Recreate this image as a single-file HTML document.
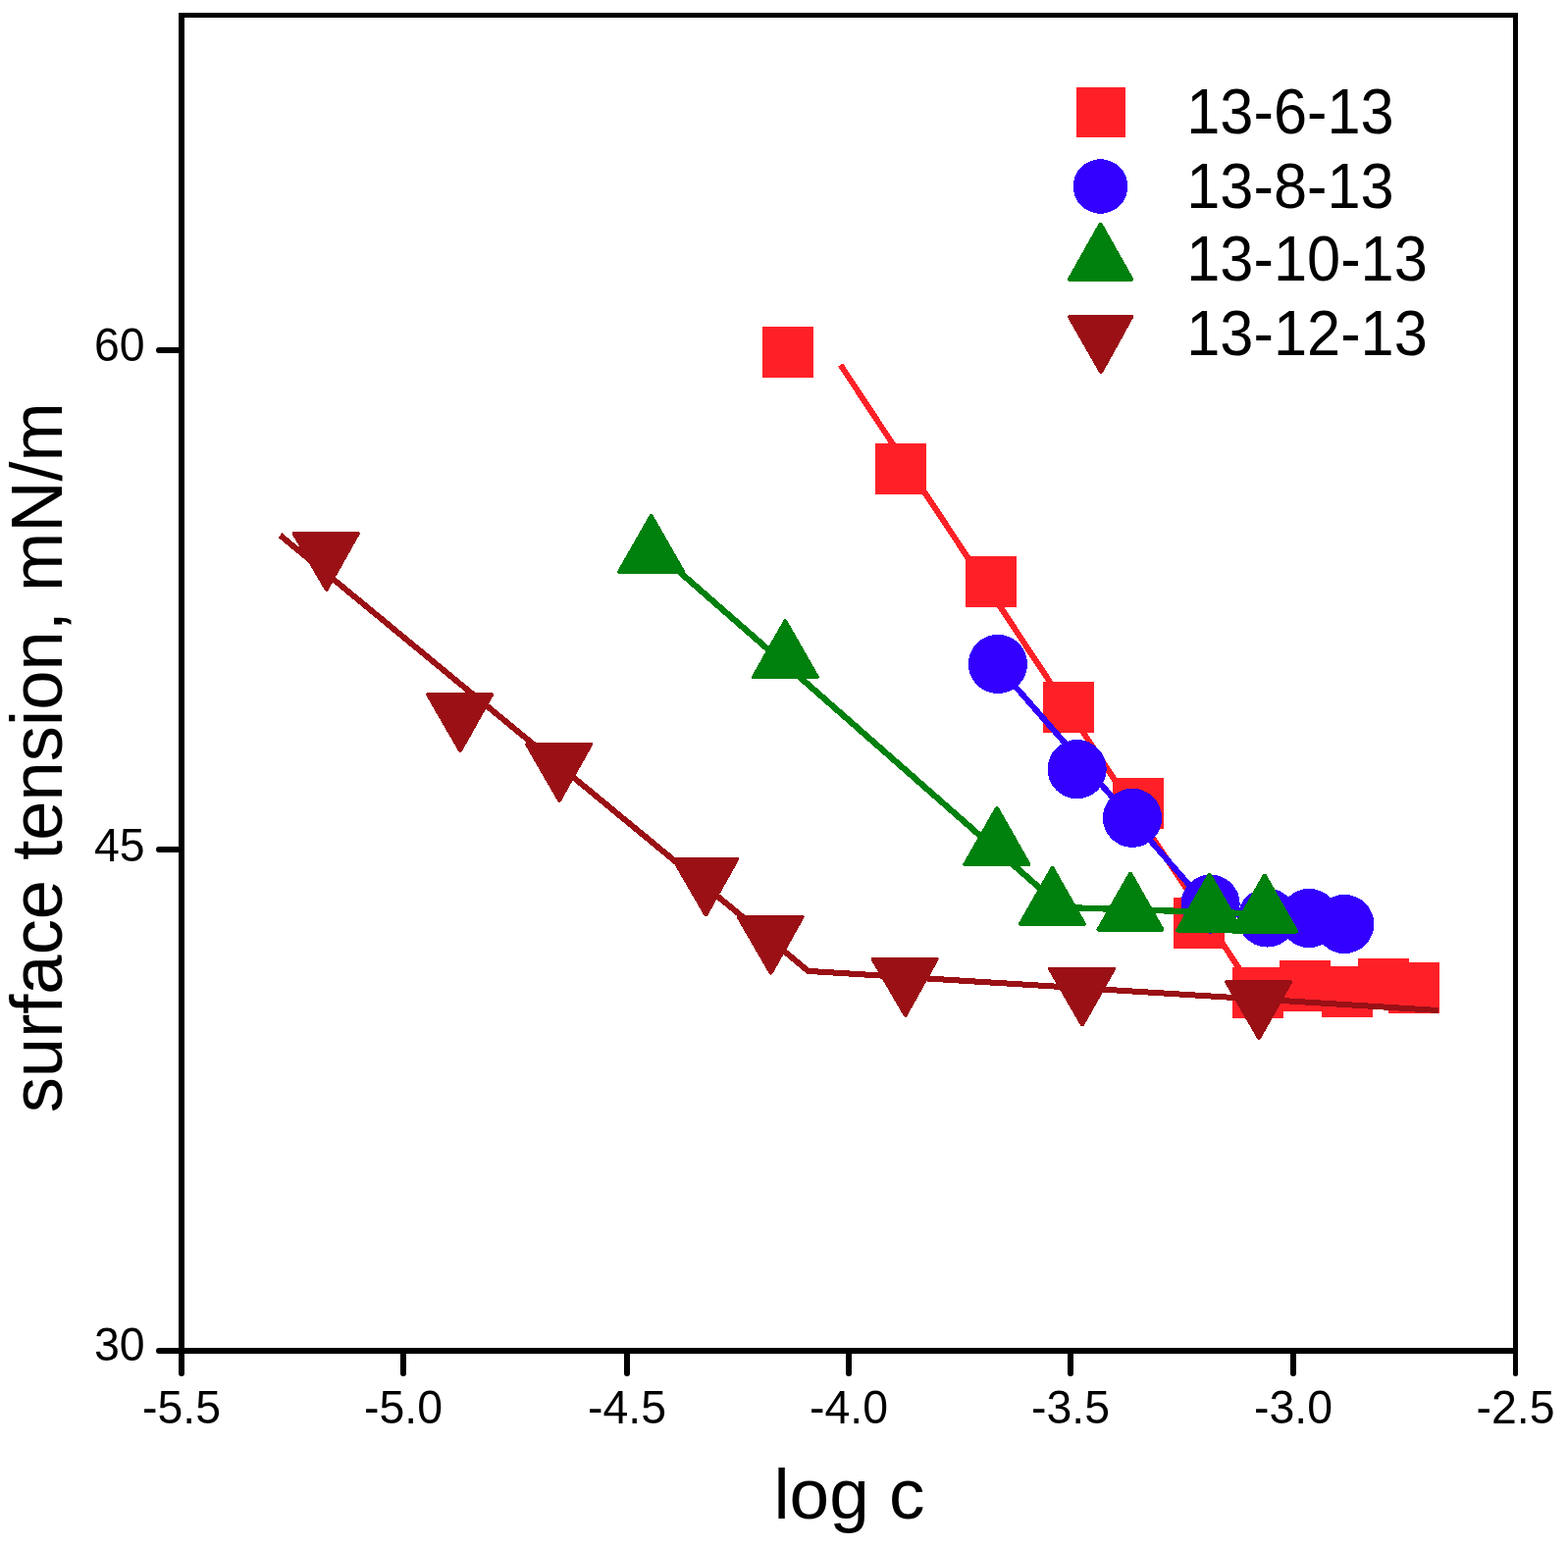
<!DOCTYPE html>
<html lang="en"><head><meta charset="utf-8">
<title>Surface tension vs log c</title>
<style>
html,body{margin:0;padding:0;background:#fff;}
body{width:1598px;height:1577px;overflow:hidden;}
svg{display:block;}
.crisp{shape-rendering:crispEdges;}
text{font-family:"Liberation Sans", Arial, Helvetica, sans-serif;fill:#000;}
.tick{font-size:46px;}
.title{font-size:72.7px;}
.leg{font-size:62px;}
</style></head><body>
<svg width="1598" height="1577" viewBox="0 0 1598 1577">
<rect x="0" y="0" width="1598" height="1577" fill="#ffffff"/>
<g id="series-13-6-13" class="crisp">
<polyline points="856.6,372 1268.3,995.5 1460,1008" fill="none" stroke="#ff2027" stroke-width="6" stroke-linecap="butt" stroke-linejoin="round"/>
<rect x="777" y="332.9" width="52" height="52" fill="#ff2027"/>
<rect x="892" y="451.9" width="52" height="52" fill="#ff2027"/>
<rect x="984" y="567.4" width="52" height="52" fill="#ff2027"/>
<rect x="1063.1" y="694.9" width="52" height="52" fill="#ff2027"/>
<rect x="1134" y="792.9" width="52" height="52" fill="#ff2027"/>
<rect x="1196" y="914.8" width="52" height="52" fill="#ff2027"/>
<rect x="1256" y="986" width="52" height="52" fill="#ff2027"/>
<rect x="1303.5" y="979.1" width="52" height="52" fill="#ff2027"/>
<rect x="1346.9" y="985" width="52" height="52" fill="#ff2027"/>
<rect x="1384" y="977" width="52" height="52" fill="#ff2027"/>
<rect x="1415.1" y="981" width="52" height="52" fill="#ff2027"/>
</g>
<g id="series-13-8-13" class="crisp">
<polyline points="1017,679.5 1232,925" fill="none" stroke="#3300ff" stroke-width="6" stroke-linecap="round" stroke-linejoin="round"/>
<circle cx="1016.9" cy="676.9" r="30.1" fill="#3300ff"/>
<circle cx="1097.6" cy="784.1" r="30.1" fill="#3300ff"/>
<circle cx="1154" cy="833.8" r="30.1" fill="#3300ff"/>
<circle cx="1233.6" cy="921.6" r="30.1" fill="#3300ff"/>
<circle cx="1291.5" cy="935.5" r="30.1" fill="#3300ff"/>
<circle cx="1334.2" cy="936" r="30.1" fill="#3300ff"/>
<circle cx="1370.2" cy="942" r="30.1" fill="#3300ff"/>
</g>
<g id="series-13-10-13" class="crisp">
<polyline points="664,558 826.1,700 1082,925 1300,932" fill="none" stroke="#00800d" stroke-width="6.3" stroke-linecap="round" stroke-linejoin="round"/>
<path d="M665.39 524.86L697.89 581.86A2 2 0 0 1 696.15 584.85L631.15 584.85A2 2 0 0 1 629.41 581.86L661.91 524.86A2 2 0 0 1 665.39 524.86Z" fill="#00800d"/>
<path d="M802.09 632.26L834.59 689.26A2 2 0 0 1 832.85 692.25L767.85 692.25A2 2 0 0 1 766.11 689.26L798.61 632.26A2 2 0 0 1 802.09 632.26Z" fill="#00800d"/>
<path d="M1017.69 823.01L1050.19 880.01A2 2 0 0 1 1048.45 883L983.45 883A2 2 0 0 1 981.71 880.01L1014.21 823.01A2 2 0 0 1 1017.69 823.01Z" fill="#00800d"/>
<path d="M1074.19 883.91L1106.69 940.91A2 2 0 0 1 1104.95 943.9L1039.95 943.9A2 2 0 0 1 1038.21 940.91L1070.71 883.91A2 2 0 0 1 1074.19 883.91Z" fill="#00800d"/>
<path d="M1153.74 889.61L1186.24 946.61A2 2 0 0 1 1184.5 949.6L1119.5 949.6A2 2 0 0 1 1117.76 946.61L1150.26 889.61A2 2 0 0 1 1153.74 889.61Z" fill="#00800d"/>
<path d="M1234.34 890.61L1266.84 947.61A2 2 0 0 1 1265.1 950.6L1200.1 950.6A2 2 0 0 1 1198.36 947.61L1230.86 890.61A2 2 0 0 1 1234.34 890.61Z" fill="#00800d"/>
<path d="M1290.54 891.51L1323.04 948.51A2 2 0 0 1 1321.3 951.5L1256.3 951.5A2 2 0 0 1 1254.56 948.51L1287.06 891.51A2 2 0 0 1 1290.54 891.51Z" fill="#00800d"/>
</g>
<g id="series-13-12-13" class="crisp">
<polyline points="285.5,545.7 823.7,989.9 1466,1030" fill="none" stroke="#9a1015" stroke-width="6" stroke-linecap="butt" stroke-linejoin="round"/>
<path d="M330.97 601.9L297.97 544.9A2 2 0 0 1 299.7 541.9L364.7 541.9A2 2 0 0 1 366.44 544.88L334.44 601.88A2 2 0 0 1 330.97 601.9Z" fill="#9a1015"/>
<path d="M467.37 766L434.37 709A2 2 0 0 1 436.1 706L501.1 706A2 2 0 0 1 502.84 708.98L470.84 765.98A2 2 0 0 1 467.37 766Z" fill="#9a1015"/>
<path d="M568.37 816.75L535.37 759.75A2 2 0 0 1 537.1 756.75L602.1 756.75A2 2 0 0 1 603.84 759.73L571.84 816.73A2 2 0 0 1 568.37 816.75Z" fill="#9a1015"/>
<path d="M717.62 933.5L684.62 876.5A2 2 0 0 1 686.35 873.5L751.35 873.5A2 2 0 0 1 753.09 876.48L721.09 933.48A2 2 0 0 1 717.62 933.5Z" fill="#9a1015"/>
<path d="M783.92 992.7L750.92 935.7A2 2 0 0 1 752.65 932.7L817.65 932.7A2 2 0 0 1 819.39 935.68L787.39 992.68A2 2 0 0 1 783.92 992.7Z" fill="#9a1015"/>
<path d="M920.92 1035.8L887.92 978.8A2 2 0 0 1 889.65 975.8L954.65 975.8A2 2 0 0 1 956.39 978.78L924.39 1035.78A2 2 0 0 1 920.92 1035.8Z" fill="#9a1015"/>
<path d="M1101.27 1045.6L1068.27 988.6A2 2 0 0 1 1070 985.6L1135 985.6A2 2 0 0 1 1136.74 988.58L1104.74 1045.58A2 2 0 0 1 1101.27 1045.6Z" fill="#9a1015"/>
<path d="M1281.37 1059L1248.37 1002A2 2 0 0 1 1250.1 999L1315.1 999A2 2 0 0 1 1316.84 1001.98L1284.84 1058.98A2 2 0 0 1 1281.37 1059Z" fill="#9a1015"/>
</g>
<g id="axes" fill="#000" stroke="none">
<rect x="182" y="13" width="6" height="1367"/>
<rect x="1542" y="13" width="5" height="1367"/>
<rect x="182" y="13" width="1365" height="5"/>
<rect x="182" y="1374" width="1365" height="6"/>
</g>
<g id="ticks" stroke="#000" stroke-linecap="round" fill="none">
<line x1="185" y1="1377" x2="185" y2="1400" stroke-width="6"/>
<line x1="411" y1="1377" x2="411" y2="1400" stroke-width="6"/>
<line x1="639" y1="1377" x2="639" y2="1400" stroke-width="6"/>
<line x1="865" y1="1377" x2="865" y2="1400" stroke-width="6"/>
<line x1="1091" y1="1377" x2="1091" y2="1400" stroke-width="6"/>
<line x1="1318" y1="1377" x2="1318" y2="1400" stroke-width="6"/>
<line x1="1544.5" y1="1377" x2="1544.5" y2="1400.5" stroke-width="5"/>
<line x1="162" y1="357" x2="185" y2="357" stroke-width="6"/>
<line x1="162" y1="866" x2="185" y2="866" stroke-width="6"/>
<line x1="162" y1="1377" x2="185" y2="1377" stroke-width="6"/>
</g>
<g id="ticklabels" class="tick">
<text transform="translate(185,1451) scale(1.01,1.04)" text-anchor="middle">-5.5</text>
<text transform="translate(411,1451) scale(1.01,1.04)" text-anchor="middle">-5.0</text>
<text transform="translate(639,1451) scale(1.01,1.04)" text-anchor="middle">-4.5</text>
<text transform="translate(865,1451) scale(1.01,1.04)" text-anchor="middle">-4.0</text>
<text transform="translate(1091,1451) scale(1.01,1.04)" text-anchor="middle">-3.5</text>
<text transform="translate(1318,1451) scale(1.01,1.04)" text-anchor="middle">-3.0</text>
<text transform="translate(1544.5,1451) scale(1.01,1.04)" text-anchor="middle">-2.5</text>
<text transform="translate(147.6,367.5) scale(1.01,1.03)" text-anchor="end">60</text>
<text transform="translate(147.6,878) scale(1.01,1.03)" text-anchor="end">45</text>
<text transform="translate(147.6,1387.4) scale(1.01,1.03)" text-anchor="end">30</text>
</g>
<text class="title" transform="translate(865.4,1548) scale(1.003,1)" text-anchor="middle">log c</text>
<text class="title" transform="translate(63.1,772.2) rotate(-90) scale(0.996,1.012)" text-anchor="middle">surface tension, mN/m</text>
<g id="legend" class="crisp">
<rect x="1097" y="89" width="50" height="51" fill="#ff2027"/>
<circle cx="1121.5" cy="190" r="27.8" fill="#3300ff"/>
<path d="M1123.34 227.52L1154.94 283.72A2 2 0 0 1 1153.2 286.7L1090 286.7A2 2 0 0 1 1088.26 283.72L1119.86 227.52A2 2 0 0 1 1123.34 227.52Z" fill="#00800d"/>
<path d="M1120.36 380.09L1088.26 323.89A2 2 0 0 1 1090 320.9L1153.2 320.9A2 2 0 0 1 1154.95 323.87L1123.85 380.07A2 2 0 0 1 1120.36 380.09Z" fill="#9a1015"/>
<text class="leg" transform="translate(1209.2,135.8) scale(0.99,1.04)">13-6-13</text>
<text class="leg" transform="translate(1209.2,211.9) scale(0.99,1.04)">13-8-13</text>
<text class="leg" transform="translate(1209.2,286.3) scale(0.99,1.04)">13-10-13</text>
<text class="leg" transform="translate(1209.2,362.2) scale(0.99,1.04)">13-12-13</text>
</g>
</svg>
</body></html>
